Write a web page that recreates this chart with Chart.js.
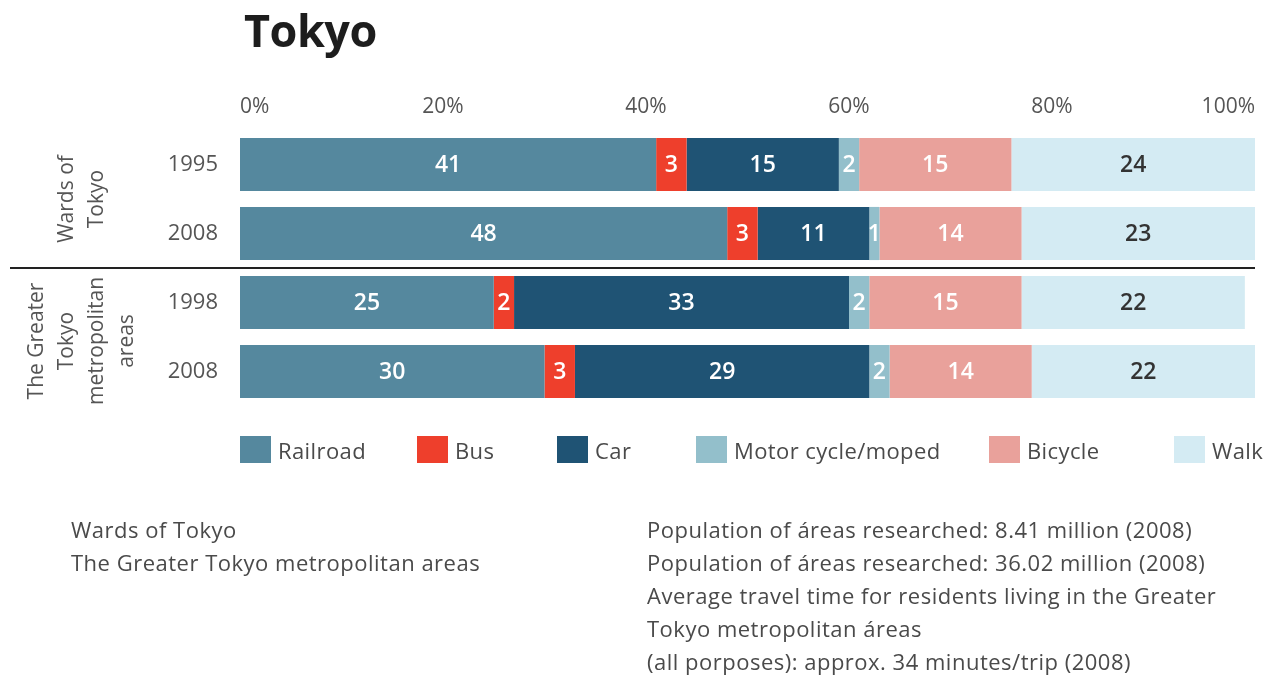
<!DOCTYPE html>
<html>
<head>
<meta charset="utf-8">
<title>Tokyo</title>
<script src="https://cdn.jsdelivr.net/npm/chart.js@4/dist/chart.umd.min.js"></script>
<style>
  body { margin: 0; background: #fff; font-family: "Open Sans", sans-serif; color: #484848; }
  #wrap { position: relative; width: 1266px; height: 678px; overflow: hidden; }
  #chart { position: absolute; left: 0; top: 0; }
  h1 { position: absolute; left: 244px; top: -1px; margin: 0; font-size: 45px; font-weight: 700; color: #1d1d1d; letter-spacing: -0.5px; }
  .legend-item { position: absolute; top: 436px; height: 27px; display: flex; align-items: center; font-size: 22px; letter-spacing: 0.4px; color: #4a4a4a; }
  .legend-item span.box { width: 31px; height: 27px; margin-right: 7px; }
  .notes { position: absolute; font-size: 22px; letter-spacing: 0.5px; line-height: 33px; color: #4a4a4a; }
</style>
</head>
<body>
<div id="wrap">
  <canvas id="chart" width="1266" height="678"></canvas>
  <h1>Tokyo</h1>
  <div id="legend"></div>
  <div class="notes" style="left:71px; top:513px;">
    Wards of Tokyo<br>The Greater Tokyo metropolitan areas
  </div>
  <div class="notes" style="left:647px; top:513px;">
    Population of áreas researched: 8.41 million (2008)<br>
    Population of áreas researched: 36.02 million (2008)<br>
    Average travel time for residents living in the Greater<br>
    Tokyo metropolitan áreas<br>
    (all porposes): approx. 34 minutes/trip (2008)
  </div>
</div>
<script>
// rows, top to bottom
const years = ['1995', '2008', '1998', '2008'];
const groups = [['Wards of', 'Tokyo'], ['The Greater', 'Tokyo', 'metropolitan', 'areas']];
const modes = ['Railroad', 'Bus', 'Car', 'Motor cycle/moped', 'Bicycle', 'Walk'];

// share of trips by mode, percent
const railroad = [41, 48, 25, 30];
const bus = [3, 3, 2, 3];
const car = [15, 11, 33, 29];
const moped = [2, 1, 2, 2];
const bicycle = [15, 14, 15, 14];
const walk = [24, 23, 22, 22];

const xTicks = [0, 20, 40, 60, 80, 100];

const colors = ['#55889e', '#ee3f2c', '#1f5374', '#93bfcb', '#e9a19b', '#d4ebf3'];
const textColors = ['#fff', '#fff', '#fff', '#fff', '#fff', '#333'];
const legendLeft = [240, 417, 557, 696, 989, 1174];

const series = [railroad, bus, car, moped, bicycle, walk];

// html legend
const legendEl = document.getElementById('legend');
modes.forEach((m, i) => {
  const item = document.createElement('div');
  item.className = 'legend-item';
  item.style.left = legendLeft[i] + 'px';
  item.innerHTML = '<span class="box" style="background:' + colors[i] + '"></span>' + m;
  legendEl.appendChild(item);
});

// numbers inside each segment
const valueLabels = {
  id: 'valueLabels',
  afterDatasetsDraw(chart) {
    const ctx = chart.ctx;
    ctx.save();
    ctx.font = '600 23px "Open Sans"';
    ctx.textAlign = 'center';
    ctx.textBaseline = 'middle';
    chart.data.datasets.forEach((ds, i) => {
      chart.getDatasetMeta(i).data.forEach((bar, j) => {
        const p = bar.getCenterPoint();
        ctx.fillStyle = textColors[i];
        ctx.fillText(ds.data[j], p.x, p.y + 1);
      });
    });
    ctx.restore();
  }
};

// rotated group names and the divider between them
const groupLabels = {
  id: 'groupLabels',
  afterDraw(chart) {
    const ctx = chart.ctx;
    const y = chart.scales.y;
    const area = chart.chartArea;
    const mid = (y.getPixelForValue(1) + y.getPixelForValue(2)) / 2;
    ctx.save();
    ctx.strokeStyle = '#222';
    ctx.lineWidth = 2;
    ctx.beginPath();
    ctx.moveTo(10, mid);
    ctx.lineTo(area.right, mid);
    ctx.stroke();

    ctx.font = '21px "Open Sans"';
    ctx.fillStyle = '#555';
    ctx.textAlign = 'center';
    ctx.textBaseline = 'middle';
    const lh = 30;
    groups.forEach((lines, g) => {
      const cy = (y.getPixelForValue(g * 2) + y.getPixelForValue(g * 2 + 1)) / 2 + (g ? 4 : 0);
      ctx.save();
      ctx.translate(82, cy);
      ctx.rotate(-Math.PI / 2);
      lines.forEach((t, k) => {
        ctx.fillText(t, 0, (k - (lines.length - 1) / 2) * lh);
      });
      ctx.restore();
    });
    ctx.restore();
  }
};

new Chart(document.getElementById('chart'), {
  type: 'bar',
  data: {
    labels: years,
    datasets: modes.map((m, i) => ({
      label: m,
      data: series[i],
      backgroundColor: colors[i],
      borderWidth: 0,
      barPercentage: 0.77,
      categoryPercentage: 1
    }))
  },
  options: {
    indexAxis: 'y',
    responsive: false,
    animation: false,
    layout: { padding: { top: 0, left: 0, right: 11, bottom: 272 } },
    plugins: {
      legend: { display: false },
      tooltip: { enabled: false }
    },
    scales: {
      x: {
        type: 'linear',
        position: 'top',
        stacked: true,
        min: 0,
        max: 100,
        afterBuildTicks: s => { s.ticks = xTicks.map(v => ({ value: v })); },
        afterFit: s => { s.height = 130; },
        grid: { display: false, drawTicks: false },
        border: { display: false },
        ticks: {
          align: 'inner',
          padding: 10,
          color: '#555',
          font: { family: '"Open Sans"', size: 21 },
          callback: v => v + '%'
        }
      },
      y: {
        stacked: true,
        afterFit: s => { s.width = 240; },
        grid: { display: false, drawTicks: false },
        border: { display: false },
        ticks: {
          padding: 22,
          color: '#555',
          font: { family: '"Open Sans"', size: 22 }
        }
      }
    }
  },
  plugins: [valueLabels, groupLabels]
});
</script>
</body>
</html>
